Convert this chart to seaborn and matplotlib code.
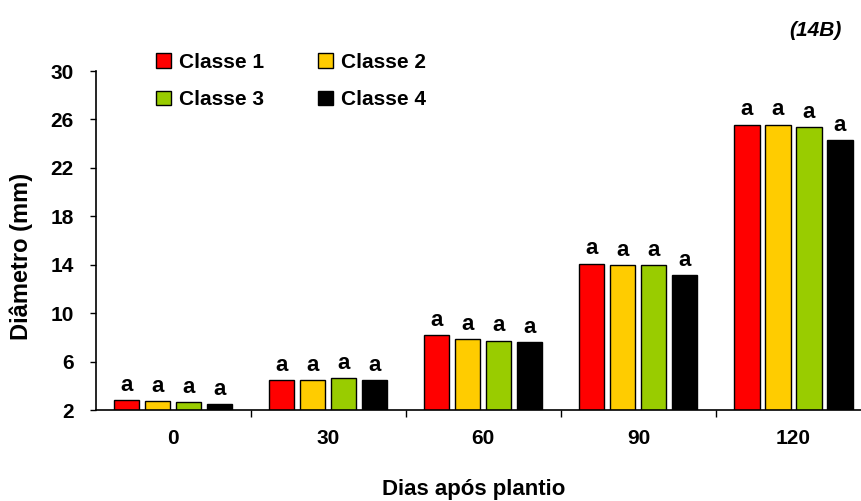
import pandas as pd
import numpy as np
import matplotlib
matplotlib.use("Agg")
import matplotlib.pyplot as plt
from matplotlib.patches import Patch
import seaborn as sns

# Dados do grafico
dias = ['0', '30', '60', '90', '120']
classes = ['Classe 1', 'Classe 2', 'Classe 3', 'Classe 4']
classe1 = [2.80, 4.48, 8.20, 14.10, 25.58]
classe2 = [2.77, 4.48, 7.87, 13.96, 25.58]
classe3 = [2.66, 4.67, 7.73, 13.96, 25.40]
classe4 = [2.52, 4.48, 7.60, 13.16, 24.30]
letras = ['a', 'a', 'a', 'a', 'a']
yticks = [2, 6, 10, 14, 18, 22, 26, 30]
cores = ['#FF0000', '#FFCC00', '#99CC00', '#000000']

# Montar tabela longa
valores = [classe1, classe2, classe3, classe4]
linhas = []
for c, vals in zip(classes, valores):
    for d, v in zip(dias, vals):
        linhas.append({'Dias': d, 'Classe': c, 'Diametro': v})
df = pd.DataFrame(linhas)

sns.set_style("white")
plt.rcParams['font.family'] = ['Liberation Sans', 'DejaVu Sans']
plt.rcParams['font.weight'] = 'bold'
plt.rcParams['text.color'] = 'black'
plt.rcParams['axes.labelcolor'] = 'black'
plt.rcParams['xtick.color'] = 'black'
plt.rcParams['ytick.color'] = 'black'

fs = 15

fig = plt.figure(figsize=(8.62, 5.01), dpi=100)
ax = fig.add_axes([0.1108, 0.1816, 0.8997, 0.6766])

sns.barplot(data=df, x='Dias', y='Diametro', hue='Classe', order=dias,
            hue_order=classes, palette=cores, saturation=1, width=0.8, gap=0.19,
            edgecolor='black', linewidth=1, legend=False, ax=ax)

# Letras sobre as barras
for cont in ax.containers:
    ax.bar_label(cont, labels=letras, padding=3, fontsize=16, fontweight='bold',
                 color='black')

ax.set_ylim(2, 30)
ax.set_xlim(-0.5, 4.5)
ax.set_yticks(yticks)
ax.set_yticklabels([str(t) for t in yticks], fontsize=fs, fontweight='bold')
ax.set_xticks(range(len(dias)))
ax.set_xticklabels(dias, fontsize=fs, fontweight='bold')
ax.set_xticks(np.arange(0.5, 4.5, 1), minor=True)
ax.tick_params(axis='y', which='major', direction='out', length=4.5, width=1,
               pad=11, left=True, color='black')
ax.tick_params(axis='x', which='major', length=0, pad=14)
ax.tick_params(axis='x', which='minor', direction='out', length=5, width=1,
               bottom=True, color='black')

for s in ['top', 'right']:
    ax.spines[s].set_visible(False)
for s in ['left', 'bottom']:
    ax.spines[s].set_color('black')
    ax.spines[s].set_linewidth(1.2)

ax.set_xlabel('Dias após plantio', fontsize=16, fontweight='bold')
ax.xaxis.set_label_coords(0.488, -0.203)
ax.set_ylabel('Diâmetro (mm)', fontsize=17, fontweight='bold')
ax.yaxis.set_label_coords(-0.0806, 0.454)

# Legenda em duas colunas, preenchida por linha
ordem = [0, 2, 1, 3]
handles = [Patch(facecolor=cores[i], edgecolor='black', linewidth=1) for i in ordem]
rotulos = [classes[i] for i in ordem]
fig.legend(handles, rotulos, loc='upper left', bbox_to_anchor=(0.181, 0.895),
           ncol=2, frameon=False, handlelength=0.7,
           handleheight=0.7, handletextpad=0.4, columnspacing=2.6,
           labelspacing=0.9, borderaxespad=0, borderpad=0,
           prop={'weight': 'bold', 'size': fs})

fig.text(0.976, 0.94, '(14B)', ha='right', va='center', fontsize=fs,
         fontweight='bold', style='italic')

fig.savefig('out.png', dpi=100)
